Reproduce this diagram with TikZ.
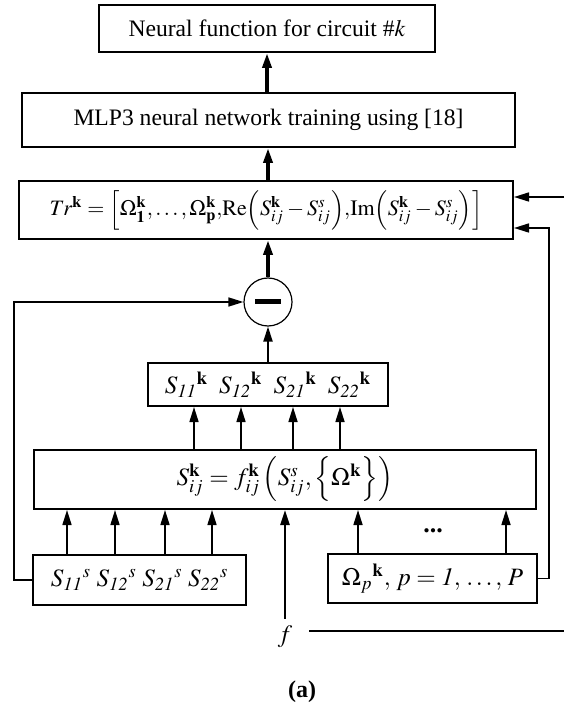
\documentclass[tikz,border=0pt]{standalone}
\usepackage{mathptmx}
\usepackage{fontspec}
\setmainfont{Liberation Serif}
\usetikzlibrary{arrows.meta}

\newcommand{\kk}{\mathbf{k}}

\begin{document}
\begin{tikzpicture}[x=0.5pt,y=-0.5pt,
  box/.style={draw,line width=1pt,inner sep=0pt,font=\fontsize{11.8}{13}\selectfont},
  arr/.style={-{Triangle[length=7.5pt,width=4.5pt]},line width=0.8pt},
  fat/.style={arr,line width=1.8pt}]

\useasboundingbox (0,0) rectangle (564,704);

% Blocks
\node[box,minimum width=168pt,minimum height=23.5pt] (nf) at (267,28.5)
    {Neural function for circuit \#$k$};
\node[box,minimum width=246.5pt,minimum height=27pt] (mlp) at (268.5,120)
    {MLP3 neural network training using [18]};
\node[box,minimum width=247pt,minimum height=29pt,font=\fontsize{11}{13}\selectfont] (tr) at (266,210)
    {$Tr^{\kk}=\Big[\Omega_{\mathbf{1}}^{\kk},\ldots,\Omega_{\mathbf{p}}^{\kk}{,}\mathrm{Re}\Big(S_{ij}^{\kk}-S_{ij}^{s}\Big){,}\mathrm{Im}\Big(S_{ij}^{\kk}-S_{ij}^{s}\Big)\Big]$};
\node[draw,circle,line width=0.6pt,minimum size=24pt,inner sep=0pt] (diff) at (268,302)
    {\rule[-1.25pt]{13pt}{2.5pt}};
\node[box,minimum width=120pt,minimum height=21.5pt,font=\fontsize{12.5}{14}\selectfont] (sk) at (268,384.5)
    {$S_{\mathit{11}}{}^{\kk}\;\;S_{\mathit{12}}{}^{\kk}\;\;S_{\mathit{21}}{}^{\kk}\;\;S_{\mathit{22}}{}^{\kk}$};
\node[box,minimum width=251pt,minimum height=29.5pt,font=\fontsize{12.5}{14}\selectfont] (fb) at (285,479.5)
    {$S_{ij}^{\kk}=f_{ij}^{\kk}\,\Big(S_{ij}^{s},\Big\{\Omega^{\kk}\Big\}\Big)$};
\node[box,minimum width=106.5pt,minimum height=25pt,font=\fontsize{12.5}{14}\selectfont] (ss) at (139.5,580)
    {$S_{\mathit{11}}{}^{s}\;S_{\mathit{12}}{}^{s}\;S_{\mathit{21}}{}^{s}\;S_{\mathit{22}}{}^{s}$};
\node[box,minimum width=104.5pt,minimum height=24.5pt,font=\fontsize{12.5}{14}\selectfont] (om) at (432.5,578.5)
    {$\Omega_{p}{}^{\kk},\,p=\mathit{1},\,\ldots,\,P$};
\node[font=\fontsize{13}{14}\selectfont\bfseries] (dots) at (433,531) {...};
\node[font=\fontsize{12.5}{14}\selectfont] (fl) at (285,637) {$f$};
\node[font=\fontsize{12}{14}\selectfont\bfseries] (cap) at (302,692) {(a)};

% Feedback points
\coordinate (lft) at (14,302);
\coordinate (rgt) at (549,228);
\coordinate (fin) at (564,197);
\coordinate (fout) at (564,631);

% Main chain
\draw[fat] (mlp.north -| nf.south) -- (nf.south);
\draw[fat] (tr.north -| diff) -- (mlp.south -| diff);
\draw[fat] (diff.north) -- (tr.south -| diff);
\draw[arr,line width=1pt] (sk.north -| diff) -- (diff.south);

% Inputs
\foreach \x in {194,241,293,340}
  \draw[arr] (fb.north -| \x,0) -- (sk.south -| \x,0);
\foreach \x in {67,115,165,212}
  \draw[arr] (ss.north -| \x,0) -- (fb.south -| \x,0);
\foreach \x in {358,506}
  \draw[arr] (om.north -| \x,0) -- (fb.south -| \x,0);
\draw[arr,line width=1.3pt] (fl.north) -- (fb.south -| fl.north);

% Loops
\draw[arr] (ss.west) -| (lft) -- (diff.west);
\draw[arr] (om.east) -| (rgt) -- (rgt -| tr.east);
\draw[arr] (fin) -- (fin -| tr.east);
\draw[line width=0.8pt] ([xshift=5pt]fl.east |- fout) -- (fout);

\end{tikzpicture}
\end{document}
